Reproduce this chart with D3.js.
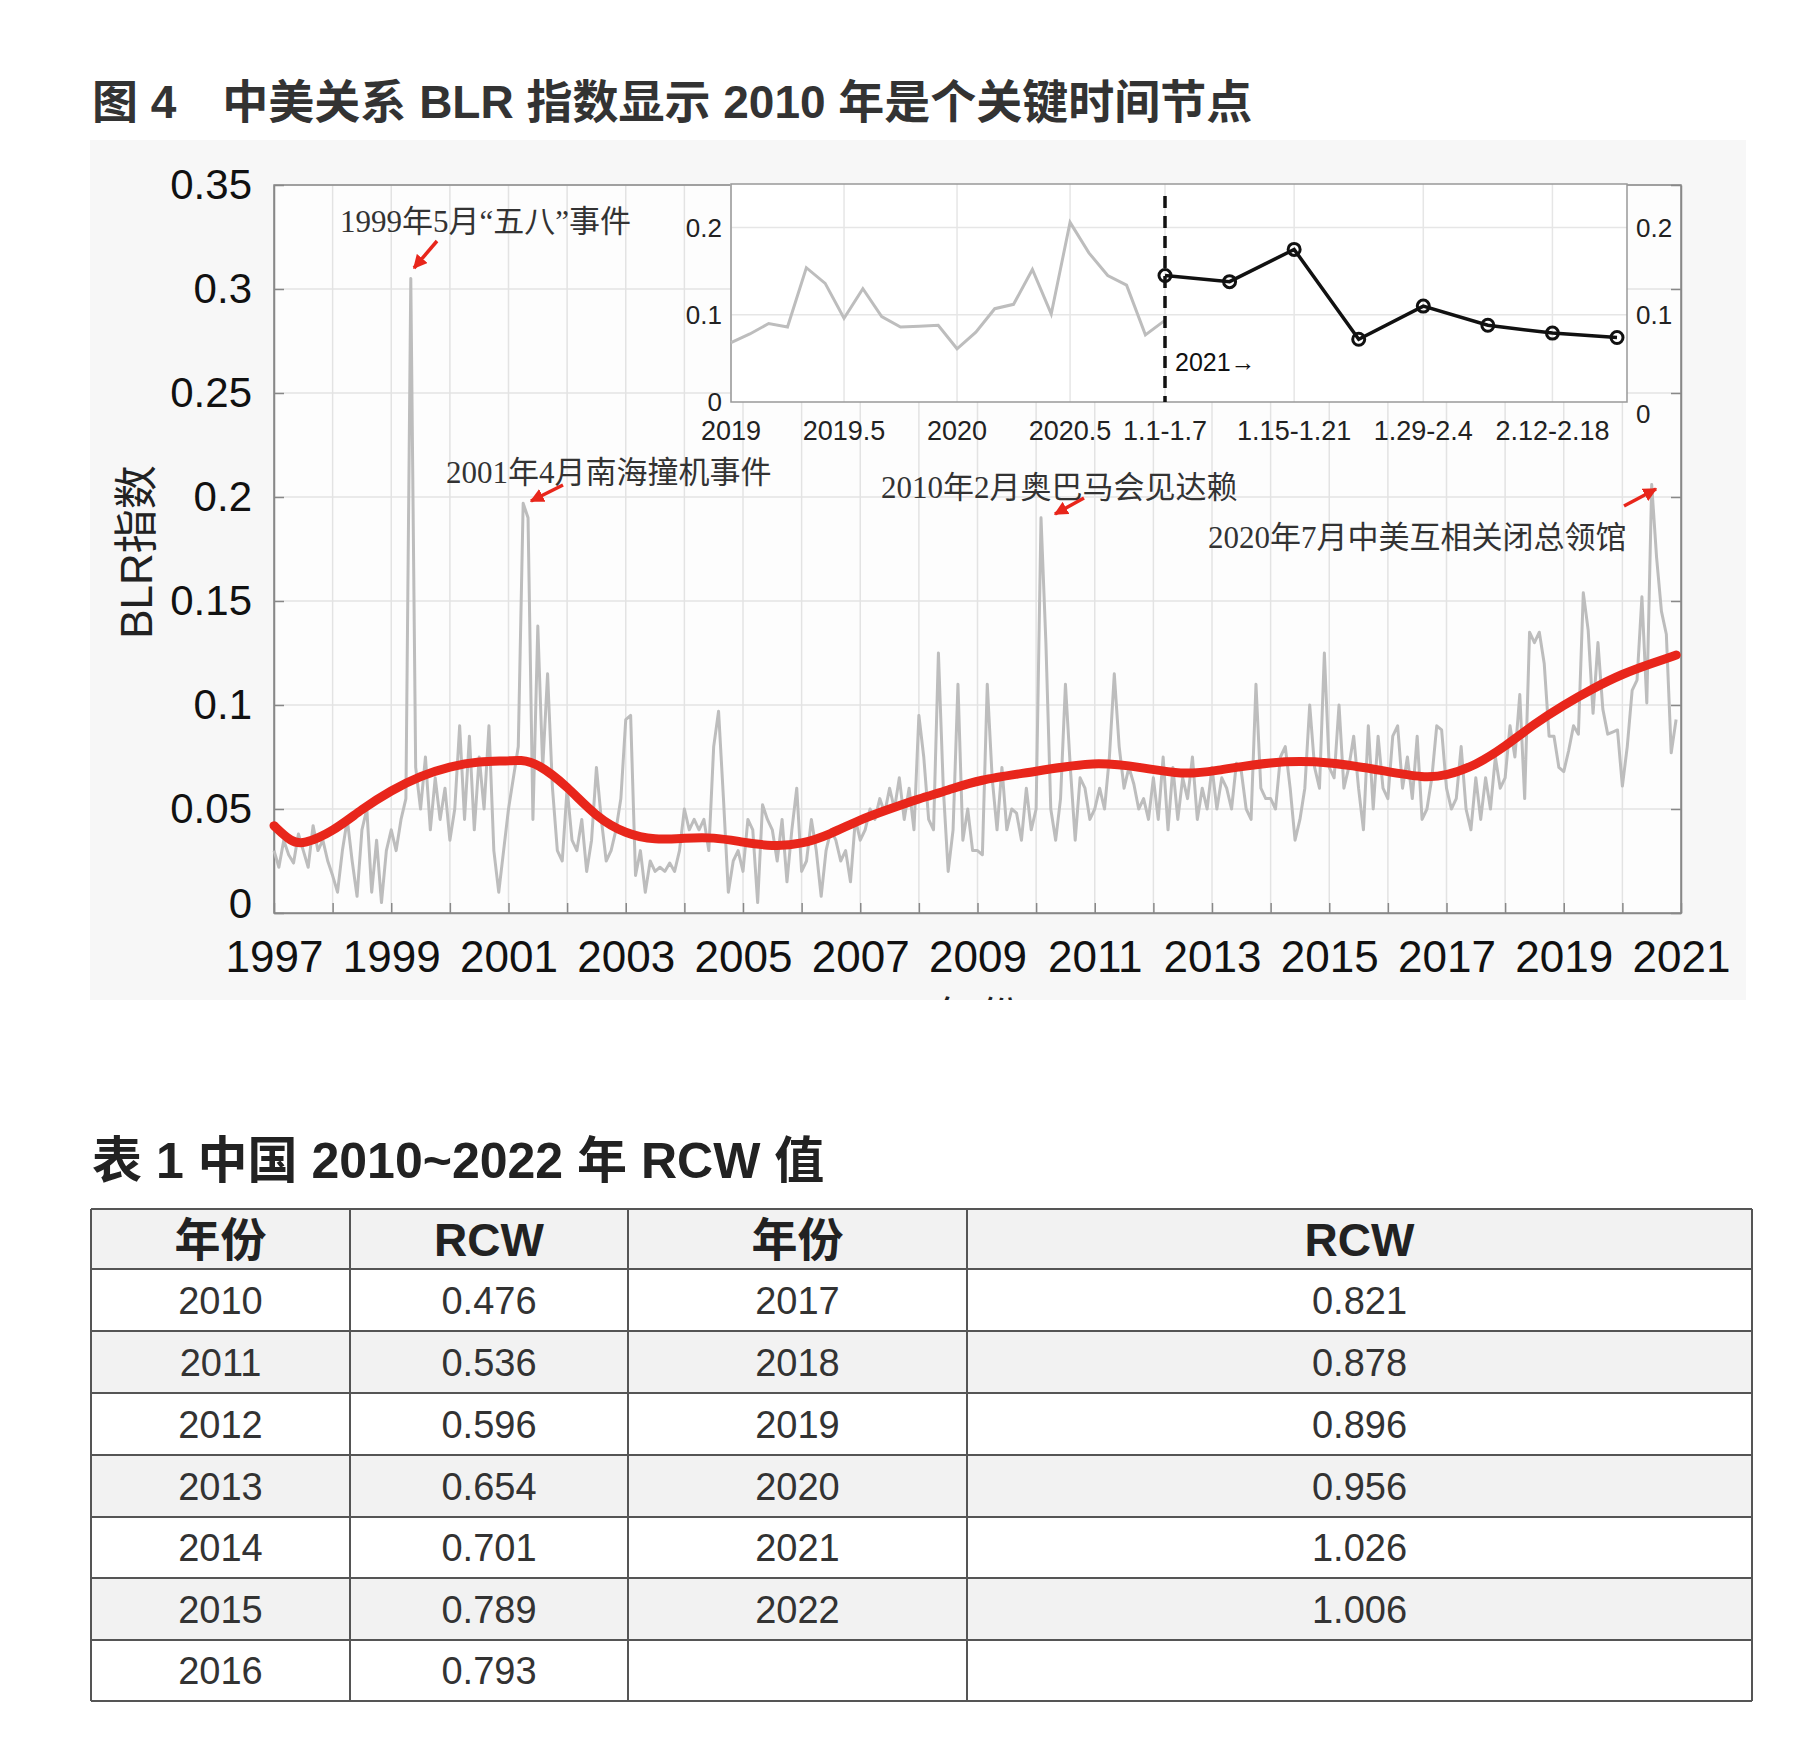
<!DOCTYPE html>
<html lang="zh">
<head>
<meta charset="UTF-8">
<title>图4 中美关系BLR指数</title>
<script src="https://d3js.org/d3.v7.min.js"></script>
<style>
  body { margin: 0; background: #fff; }
  svg text { font-family: "Liberation Sans", "Noto Sans CJK SC", sans-serif; }
  .serif { font-family: "Liberation Serif", "Noto Sans CJK SC", serif !important; }
</style>
</head>
<body>
<svg id="chart" width="1794" height="1756"></svg>
<script>
// ---- data ----
const startYear = 1997;
// monthly BLR index, Jan 1997 .. Dec 2020
const blrMonthly = [
  0.030,0.022,0.035,0.028,0.024,0.038,0.030,0.022,0.042,0.030,0.035,0.025,
  0.018,0.010,0.030,0.045,0.025,0.008,0.040,0.050,0.010,0.035,0.005,0.030,
  0.040,0.030,0.045,0.055,0.305,0.070,0.050,0.075,0.040,0.065,0.045,0.060,
  0.035,0.050,0.090,0.045,0.085,0.040,0.075,0.050,0.090,0.030,0.010,0.030,
  0.050,0.065,0.080,0.197,0.190,0.045,0.138,0.070,0.115,0.060,0.030,0.025,
  0.060,0.035,0.030,0.045,0.020,0.035,0.070,0.045,0.025,0.030,0.040,0.055,
  0.093,0.095,0.018,0.030,0.010,0.025,0.020,0.022,0.020,0.024,0.020,0.030,
  0.050,0.040,0.045,0.040,0.045,0.030,0.080,0.097,0.055,0.010,0.025,0.030,
  0.020,0.045,0.040,0.005,0.052,0.045,0.040,0.025,0.045,0.015,0.040,0.060,
  0.020,0.025,0.045,0.030,0.008,0.030,0.040,0.035,0.025,0.030,0.015,0.045,
  0.035,0.040,0.050,0.045,0.055,0.048,0.060,0.050,0.065,0.045,0.060,0.040,
  0.095,0.075,0.045,0.040,0.125,0.060,0.020,0.040,0.110,0.035,0.050,0.030,
  0.030,0.028,0.110,0.065,0.040,0.070,0.040,0.050,0.048,0.035,0.060,0.040,
  0.050,0.190,0.130,0.050,0.035,0.055,0.110,0.070,0.035,0.065,0.060,0.045,
  0.050,0.060,0.050,0.075,0.115,0.080,0.060,0.070,0.062,0.050,0.055,0.045,
  0.065,0.045,0.075,0.040,0.070,0.045,0.065,0.055,0.075,0.045,0.060,0.050,
  0.070,0.050,0.065,0.060,0.050,0.072,0.068,0.050,0.045,0.110,0.060,0.055,
  0.055,0.050,0.075,0.080,0.060,0.035,0.045,0.060,0.100,0.070,0.060,0.125,
  0.070,0.065,0.100,0.060,0.070,0.085,0.060,0.040,0.090,0.050,0.085,0.060,
  0.055,0.085,0.090,0.060,0.075,0.055,0.085,0.045,0.050,0.065,0.090,0.088,
  0.060,0.050,0.055,0.080,0.050,0.040,0.065,0.045,0.065,0.050,0.075,0.060,
  0.065,0.090,0.075,0.105,0.055,0.135,0.130,0.135,0.120,0.085,0.085,0.070,
  0.068,0.078,0.090,0.086,0.154,0.136,0.096,0.130,0.098,0.086,0.087,0.088,
  0.061,0.080,0.107,0.112,0.152,0.101,0.206,0.171,0.145,0.134,0.077,0.093
];
// smoothed trend (red)
const trendYears  = [1997,1997.3,1997.5,1998,1998.5,1999,1999.5,2000,2000.5,2001,2001.2,2001.5,2002,2002.5,2003,2003.5,2004,2004.5,2005,2005.5,2006,2006.5,2007,2007.5,2008,2008.5,2009,2010,2011,2011.8,2012.5,2013,2014,2015,2016,2016.6,2017,2017.5,2018,2018.5,2019,2019.5,2020,2020.5,2020.92];
const trendValues = [0.042,0.034,0.033,0.039,0.050,0.059,0.066,0.0705,0.073,0.073,0.0737,0.072,0.061,0.046,0.038,0.035,0.036,0.0365,0.034,0.032,0.033,0.038,0.045,0.050,0.055,0.059,0.064,0.068,0.073,0.070,0.0665,0.068,0.073,0.073,0.068,0.065,0.066,0.071,0.080,0.091,0.100,0.108,0.115,0.120,0.124];
const mainYTicks = [0,0.05,0.1,0.15,0.2,0.25,0.3,0.35];
const mainXLabels = [1997,1999,2001,2003,2005,2007,2009,2011,2013,2015,2017,2019,2021];

// inset: monthly 2019-2020 and weekly 2021
const insetMonthly = blrMonthly.slice(-24);
const weekLabels = ["1.1-1.7","1.8-1.14","1.15-1.21","1.22-1.28","1.29-2.4","2.5-2.11","2.12-2.18","2.19-2.25"];
const weekShown = ["1.1-1.7","1.15-1.21","1.29-2.4","2.12-2.18"];
const weekValues = [0.145,0.138,0.175,0.072,0.110,0.088,0.079,0.074];
const insetXTicks = [2019,2019.5,2020,2020.5];
const insetYTicks = [0,0.1,0.2];

const annotations = [
  { text: "1999年5月“五八”事件", tx: 340, ty: 232, a: [437,241,414,268] },
  { text: "2001年4月南海撞机事件", tx: 446, ty: 483, a: [563,485,531,501] },
  { text: "2010年2月奥巴马会见达赖", tx: 881, ty: 498, a: [1084,498,1055,514] },
  { text: "2020年7月中美互相关闭总领馆", tx: 1208, ty: 548, a: [1624,506,1656,489] }
];

// table
const tableHeader = ["年份","RCW","年份","RCW"];
const rcwYearsA = [2010,2011,2012,2013,2014,2015,2016];
const rcwValuesA = ["0.476","0.536","0.596","0.654","0.701","0.789","0.793"];
const rcwYearsB = [2017,2018,2019,2020,2021,2022];
const rcwValuesB = ["0.821","0.878","0.896","0.956","1.026","1.006"];

// ---- drawing ----
const svg = d3.select('#chart');
svg.append('rect').attr('width',1794).attr('height',1756).attr('fill','#fff');

svg.append('text').attr('x',92).attr('y',118).attr('font-size',46).attr('font-weight','bold')
  .attr('fill','#333').text('图 4　中美关系 BLR 指数显示 2010 年是个关键时间节点');

// panel
svg.append('defs').append('clipPath').attr('id','panelClip')
  .append('rect').attr('x',90).attr('y',140).attr('width',1656).attr('height',860);
const panel = svg.append('g').attr('clip-path','url(#panelClip)');
panel.append('rect').attr('x',90).attr('y',140).attr('width',1656).attr('height',860).attr('fill','#f7f7f7');

const x = d3.scaleLinear().domain([1997,2021]).range([274,1681]);
const y = d3.scaleLinear().domain([0,0.35]).range([913,185]);
panel.append('rect').attr('x',274).attr('y',185).attr('width',1407).attr('height',728).attr('fill','#fdfdfd');

// grid
panel.append('g').selectAll('line').data(d3.range(1997,2022)).join('line')
  .attr('x1',d=>x(d)).attr('x2',d=>x(d)).attr('y1',185).attr('y2',913)
  .attr('stroke','#e3e3e3').attr('stroke-width',1.5);
panel.append('g').selectAll('line').data(mainYTicks).join('line')
  .attr('x1',274).attr('x2',1681).attr('y1',d=>y(d)).attr('y2',d=>y(d))
  .attr('stroke','#e3e3e3').attr('stroke-width',1.5);

const fmt = d => d === 0 ? '0' : String(+d.toFixed(2));
// axes
const yAxis = panel.append('g').attr('transform','translate(274,0)')
  .call(d3.axisLeft(y).tickValues(mainYTicks).tickFormat(fmt).tickSizeInner(-10).tickSizeOuter(0).tickPadding(22));
const yAxisR = panel.append('g').attr('transform','translate(1681,0)')
  .call(d3.axisRight(y).tickValues(mainYTicks).tickFormat('').tickSizeInner(-10).tickSizeOuter(0));
const xAxis = panel.append('g').attr('transform','translate(0,913)')
  .call(d3.axisBottom(x).tickValues(d3.range(1997,2022)).tickFormat(d => mainXLabels.includes(d) ? d : '')
    .tickSizeInner(-10).tickSizeOuter(0).tickPadding(26));
[yAxis,yAxisR,xAxis].forEach(g => {
  g.selectAll('path,line').attr('stroke','#888').attr('stroke-width',1.5);
  g.selectAll('text').attr('fill','#111').attr('font-size',42).attr('font-family','Liberation Sans, sans-serif');
});
xAxis.selectAll('text').attr('font-size',44).attr('dy','0.75em');
yAxis.selectAll('text').filter(d => d === 0).attr('dy','0.1em');
panel.append('rect').attr('x',274).attr('y',185).attr('width',1407).attr('height',728)
  .attr('fill','none').attr('stroke','#888').attr('stroke-width',1.5);

panel.append('text').attr('transform','translate(152,552) rotate(-90)').attr('text-anchor','middle')
  .attr('font-size',44).attr('fill','#222').text('BLR指数');
panel.append('text').attr('x',978).attr('y',1034).attr('text-anchor','middle')
  .attr('font-size',44).attr('fill','#222').text('年份');

// series
const line = d3.line().x(d => x(d[0])).y(d => y(d[1]));
panel.append('path').datum(blrMonthly.map((v,i) => [startYear + i/12, v]))
  .attr('d', line).attr('fill','none').attr('stroke','#bdbdbd').attr('stroke-width',3).attr('stroke-linejoin','round');
panel.append('path').datum(trendYears.map((t,i) => [t, trendValues[i]]))
  .attr('d', line.curve(d3.curveBasis)).attr('fill','none').attr('stroke','#e8261b').attr('stroke-width',9).attr('stroke-linecap','round');

// annotations
const defs = svg.select('defs');
defs.append('marker').attr('id','arr').attr('viewBox','0 0 10 10').attr('refX',9).attr('refY',5)
  .attr('markerWidth',4).attr('markerHeight',4).attr('orient','auto')
  .append('path').attr('d','M0 0 L10 5 L0 10 Z').attr('fill','#e8261b');
annotations.forEach(a => {
  panel.append('text').attr('class','serif').attr('x',a.tx).attr('y',a.ty)
    .attr('font-size',31).attr('fill','#333').text(a.text);
  panel.append('line').attr('x1',a.a[0]).attr('y1',a.a[1]).attr('x2',a.a[2]).attr('y2',a.a[3])
    .attr('stroke','#e8261b').attr('stroke-width',3.5).attr('marker-end','url(#arr)');
});

// ---- inset ----
const ix = d3.scaleLinear().domain([2019,2020.92]).range([731,1165]);
const iw = d3.scalePoint().domain(weekLabels).range([1165,1617]);
const iy = d3.scaleLinear().domain([0,0.25]).range([402,184]);
const inset = panel.append('g');
inset.append('rect').attr('x',731).attr('y',184).attr('width',896).attr('height',218).attr('fill','#fff');
const vgrid = insetXTicks.map(ix).concat(weekShown.map(iw));
inset.selectAll('.vg').data(vgrid).join('line').attr('class','vg')
  .attr('x1',d=>d).attr('x2',d=>d).attr('y1',184).attr('y2',402).attr('stroke','#e6e6e6').attr('stroke-width',1.5);
inset.selectAll('.hg').data(insetYTicks.slice(1)).join('line').attr('class','hg')
  .attr('x1',731).attr('x2',1627).attr('y1',d=>iy(d)).attr('y2',d=>iy(d)).attr('stroke','#e6e6e6').attr('stroke-width',1.5);
inset.append('rect').attr('x',731).attr('y',184).attr('width',896).attr('height',218)
  .attr('fill','none').attr('stroke','#999').attr('stroke-width',1.5);
inset.selectAll('.yl').data(insetYTicks).join('text').attr('class','yl')
  .attr('x',722).attr('y',d=>iy(d)).attr('dy','0.35em').attr('text-anchor','end').attr('font-size',26).attr('fill','#222').text(fmt);
inset.selectAll('.yr').data(insetYTicks).join('text').attr('class','yr')
  .attr('x',1636).attr('y',d=>iy(d)+(d===0?12:0)).attr('dy','0.35em').attr('font-size',26).attr('fill','#222').text(fmt);
inset.selectAll('.xl').data(insetXTicks).join('text').attr('class','xl')
  .attr('x',d=>ix(d)).attr('y',440).attr('text-anchor','middle').attr('font-size',27).attr('fill','#222').text(d=>d);
inset.selectAll('.wl').data(weekShown).join('text').attr('class','wl')
  .attr('x',d=>iw(d)).attr('y',440).attr('text-anchor','middle').attr('font-size',27).attr('fill','#222').text(d=>d);

inset.append('path').datum(insetMonthly.map((v,i) => [2019 + i/12, v]))
  .attr('d', d3.line().x(d=>ix(d[0])).y(d=>iy(d[1])))
  .attr('fill','none').attr('stroke','#bdbdbd').attr('stroke-width',3);
inset.append('line').attr('x1',1165).attr('x2',1165).attr('y1',196).attr('y2',402)
  .attr('stroke','#111').attr('stroke-width',3.5).attr('stroke-dasharray','12,8');
const wk = weekLabels.map((w,i) => [w, weekValues[i]]);
inset.append('path').datum(wk).attr('d', d3.line().x(d=>iw(d[0])).y(d=>iy(d[1])))
  .attr('fill','none').attr('stroke','#111').attr('stroke-width',3.5);
inset.selectAll('.pt').data(wk).join('circle').attr('class','pt')
  .attr('cx',d=>iw(d[0])).attr('cy',d=>iy(d[1])).attr('r',6)
  .attr('fill','none').attr('stroke','#111').attr('stroke-width',3);
inset.append('text').attr('x',1175).attr('y',371).attr('font-size',25).attr('fill','#111').text('2021→');

// ---- table ----
svg.append('text').attr('x',92).attr('y',1178).attr('font-size',50).attr('font-weight','bold')
  .attr('fill','#222').text('表 1  中国 2010~2022 年 RCW 值');

const colX = [91,350,628,967,1752];
const rowY = [1209,1269,1331,1393,1455,1517,1578,1640,1701];
const rows = rcwYearsA.map((yv,i) => [yv, rcwValuesA[i], rcwYearsB[i] ?? '', rcwValuesB[i] ?? '']);
const tbl = svg.append('g');
tbl.append('rect').attr('x',colX[0]).attr('y',rowY[0]).attr('width',colX[4]-colX[0]).attr('height',rowY[1]-rowY[0]).attr('fill','#f2f2f2');
rows.forEach((r,i) => {
  if (i % 2 === 1) tbl.append('rect').attr('x',colX[0]).attr('y',rowY[i+1]).attr('width',colX[4]-colX[0])
    .attr('height',rowY[i+2]-rowY[i+1]).attr('fill','#f2f2f2');
});
tbl.selectAll('.hl').data(rowY).join('line').attr('class','hl')
  .attr('x1',colX[0]).attr('x2',colX[4]).attr('y1',d=>d).attr('y2',d=>d).attr('stroke','#555').attr('stroke-width',2);
tbl.selectAll('.vl').data(colX).join('line').attr('class','vl')
  .attr('x1',d=>d).attr('x2',d=>d).attr('y1',rowY[0]).attr('y2',rowY[8]).attr('stroke','#555').attr('stroke-width',2);
tableHeader.forEach((h,j) => {
  tbl.append('text').attr('x',(colX[j]+colX[j+1])/2).attr('y',(rowY[0]+rowY[1])/2).attr('dy','0.36em')
    .attr('text-anchor','middle').attr('font-size',46).attr('font-weight','bold').attr('fill','#222').text(h);
});
rows.forEach((r,i) => r.forEach((c,j) => {
  tbl.append('text').attr('x',(colX[j]+colX[j+1])/2).attr('y',(rowY[i+1]+rowY[i+2])/2).attr('dy','0.36em')
    .attr('text-anchor','middle').attr('font-size',38).attr('fill','#333').text(c);
}));
</script>
</body>
</html>
